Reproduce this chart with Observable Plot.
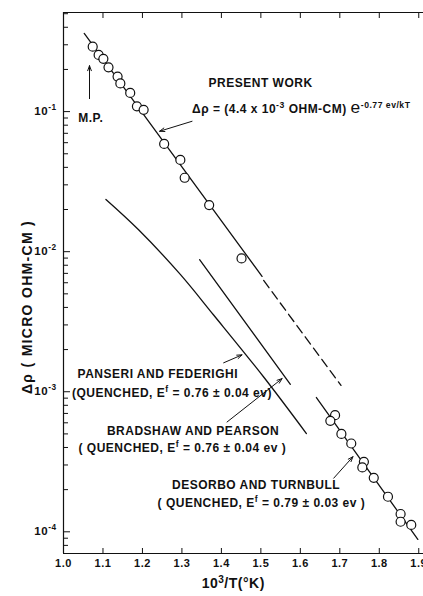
<!DOCTYPE html>
<html><head><meta charset="utf-8">
<script src="https://cdn.jsdelivr.net/npm/d3@7"></script>
<script src="https://cdn.jsdelivr.net/npm/@observablehq/plot@0.6"></script>
<style>
html,body{margin:0;padding:0;background:#fff;}
#chart svg{display:block;}
</style>
</head><body><div id="chart"></div>
<script>
// ---- data ----
// present work, high-temperature points (10^3/T, Δρ micro ohm-cm)
const presentX = [1.074, 1.089, 1.101, 1.114, 1.137, 1.144, 1.169, 1.186, 1.203, 1.255, 1.296, 1.307, 1.369, 1.451];
const presentY = [0.291, 0.254, 0.238, 0.207, 0.178, 0.159, 0.136, 0.109, 0.103, 0.0588, 0.0452, 0.0337, 0.0215, 0.00895];
// low-temperature points
const lowX = [1.688, 1.676, 1.704, 1.729, 1.761, 1.757, 1.786, 1.822, 1.854, 1.854, 1.881];
const lowY = [6.8e-4, 6.2e-4, 5.0e-4, 4.27e-4, 3.16e-4, 2.88e-4, 2.43e-4, 1.78e-4, 1.34e-4, 1.18e-4, 1.12e-4];

// present-work fit line and its dashed extrapolation
const fitX = [1.0525, 1.503];
const fitY = [0.3617, 0.00666];
const extrapX = [1.507, 1.703];
const extrapY = [0.00623, 0.00111];
// Panseri and Federighi (quenched)
const panseriX = [1.1075, 1.1902, 1.2959, 1.3803, 1.5071, 1.6154];
const panseriY = [0.02358, 0.01433, 0.00688, 0.00353, 0.001274, 5.03e-4];
// Bradshaw and Pearson (quenched)
const bradshawX = [1.3448, 1.5747];
const bradshawY = [0.00876, 0.00113];
// DeSorbo and Turnbull (quenched)
const desorboX = [1.6407, 1.8976];
const desorboY = [9.09e-4, 8.83e-5];

// ticks
const xTicks = [1.0, 1.1, 1.2, 1.3, 1.4, 1.5, 1.6, 1.7, 1.8, 1.9];
const yMajor = [1e-4, 1e-3, 1e-2, 1e-1];
const yMinor = [8e-5, 9e-5,
  2e-4, 3e-4, 4e-4, 5e-4, 6e-4, 7e-4, 8e-4, 9e-4,
  2e-3, 3e-3, 4e-3, 5e-3, 6e-3, 7e-3, 8e-3, 9e-3,
  2e-2, 3e-2, 4e-2, 5e-2, 6e-2, 7e-2, 8e-2, 9e-2,
  2e-1, 3e-1, 4e-1, 5e-1];
const yTickLabels = ["10^{-4}", "10^{-3}", "10^{-2}", "10^{-1}"];

// annotations
const noteText = [
  "PRESENT WORK",
  "Δρ = (4.4 x 10^{-3} OHM-CM) !{e}^{-0.77 ev/kT}",
  "M.P.",
  "PANSERI AND FEDERIGHI",
  "(QUENCHED, E^{f} = 0.76 ± 0.04 ev)",
  "BRADSHAW AND PEARSON",
  "( QUENCHED, E^{f} = 0.76 ± 0.04 ev )",
  "DESORBO AND TURNBULL",
  "( QUENCHED, E^{f} = 0.79 ± 0.03 ev )"
];
const noteX = [1.3676, 1.3256, 1.0373, 1.0355, 1.0213, 1.110, 1.038, 1.2748, 1.2383];
const noteY = [0.1495, 0.0976, 0.0842, 0.001247, 9.2e-4, 4.93e-4, 3.72e-4, 2.006e-4, 1.507e-4];

const arrowX1 = [1.0659, 1.3256, 1.4057, 1.4143, 1.6846];
const arrowY1 = [0.1238, 0.0853, 0.001609, 6.08e-4, 2.415e-4];
const arrowX2 = [1.0659, 1.2434, 1.4523, 1.5538, 1.7333];
const arrowY2 = [0.2128, 0.0724, 0.001834, 0.001241, 3.438e-4];

const xLabel = "10^{3}/T(°K)";
const yLabel = "Δρ ( MICRO OHM-CM )";

// ---- build tables ----
const zip = (xs, ys) => xs.map((x, i) => ({x, y: ys[i]}));
const points = zip(presentX, presentY).concat(zip(lowX, lowY));
const notes = noteText.map((t, i) => ({t, x: noteX[i], y: noteY[i]}));
const arrows = arrowX1.map((x1, i) => ({x1, y1: arrowY1[i], x2: arrowX2[i], y2: arrowY2[i]}));

const ink = "#111";
const yDomain = [7e-5, 0.51];

const chart = Plot.plot({
  width: 423,
  height: 596,
  marginLeft: 63,
  marginRight: 0,
  marginTop: 12,
  marginBottom: 43,
  style: {fontFamily: "'Liberation Sans', Arial, sans-serif", fontWeight: "bold", letterSpacing: "0.5px", background: "#fff", color: ink},
  x: {domain: [1.0, 1.912], label: null},
  y: {type: "log", domain: yDomain, label: null},
  marks: [
    // frame (left, top, bottom)
    Plot.ruleX([1.0], {stroke: ink, strokeWidth: 1.2}),
    Plot.ruleY([yDomain[1]], {stroke: ink, strokeWidth: 1.2}),
    Plot.ruleY([yDomain[0]], {stroke: ink, strokeWidth: 1.2}),
    // inward ticks
    Plot.axisX({anchor: "bottom", ticks: xTicks, tickSize: 5, dy: -5, tickFormat: () => "", label: null, stroke: ink}),
    Plot.axisX({anchor: "top", ticks: xTicks, tickSize: 5, dy: 5, tickFormat: () => "", label: null, stroke: ink}),
    Plot.axisY({anchor: "left", ticks: yMajor, tickSize: 7, dx: 7, tickFormat: () => "", label: null, stroke: ink}),
    Plot.axisY({anchor: "left", ticks: yMinor, tickSize: 5, dx: 5, tickFormat: () => "", label: null, stroke: ink}),
    // tick labels
    Plot.axisX({anchor: "bottom", ticks: xTicks, tickSize: 0, tickPadding: 6, tickFormat: d => d.toFixed(1), label: null, fontSize: 11, fill: ink}),
    Plot.axisY({anchor: "left", ticks: yMajor, tickSize: 0, tickPadding: 7, tickFormat: d => yTickLabels[yMajor.indexOf(d)], label: null, fontSize: 11.5, fill: ink}),
    // curves
    Plot.line(zip(fitX, fitY), {x: "x", y: "y", stroke: ink, strokeWidth: 1.3}),
    Plot.line(zip(extrapX, extrapY), {x: "x", y: "y", stroke: ink, strokeWidth: 1.3, strokeDasharray: "9,5"}),
    Plot.line(zip(panseriX, panseriY), {x: "x", y: "y", stroke: ink, strokeWidth: 1.3, curve: "catmull-rom"}),
    Plot.line(zip(bradshawX, bradshawY), {x: "x", y: "y", stroke: ink, strokeWidth: 1.3}),
    Plot.line(zip(desorboX, desorboY), {x: "x", y: "y", stroke: ink, strokeWidth: 1.3}),
    // data points
    Plot.dot(points, {x: "x", y: "y", r: 4.5, stroke: ink, fill: "#fff", strokeWidth: 1.2}),
    // arrows
    Plot.arrow(arrows, {x1: "x1", y1: "y1", x2: "x2", y2: "y2", stroke: ink, strokeWidth: 1, headLength: 8, headAngle: 40}),
    // annotations
    Plot.text(notes, {x: "x", y: "y", text: "t", textAnchor: "start", lineAnchor: "bottom", fontSize: 12, fill: ink}),
    // axis labels
    Plot.text([yLabel], {frameAnchor: "left", textAnchor: "middle", lineAnchor: "middle", dx: -36, dy: 24, rotate: -90, fontSize: 14, fill: ink}),
    Plot.text([{t: xLabel, x: 1.43}], {x: "x", text: "t", frameAnchor: "bottom", textAnchor: "middle", lineAnchor: "bottom", dy: 34, fontSize: 14, fill: ink})
  ]
});

// rich text: ^{...} superscript, !{...} enlarged
function richify(svg) {
  const NS = "http://www.w3.org/2000/svg";
  svg.querySelectorAll("text").forEach(t => {
    const s = t.textContent;
    if (!/[\^!]\{/.test(s)) return;
    const parts = s.split(/([\^!]\{[^}]*\})/).filter(p => p.length);
    t.textContent = "";
    let cur = 0;
    for (const p of parts) {
      const ts = document.createElementNS(NS, "tspan");
      let target = 0, content = p;
      if (p.startsWith("^{")) {
        content = p.slice(2, -1);
        target = -5;
        ts.setAttribute("font-size", "0.72em");
      } else if (p.startsWith("!{")) {
        content = p.slice(2, -1);
        ts.setAttribute("font-size", "1.45em");
        ts.setAttribute("font-weight", "normal");
      }
      const d = target - cur;
      if (d) ts.setAttribute("dy", d);
      cur = target;
      ts.textContent = content;
      t.appendChild(ts);
    }
  });
  // letter spacing for the rotated axis title
  svg.querySelectorAll("text").forEach(t => {
    if (t.textContent.indexOf("MICRO") >= 0) t.setAttribute("letter-spacing", "1.3px");
  });
}
richify(chart);
document.getElementById("chart").appendChild(chart);
</script>
</body></html>
